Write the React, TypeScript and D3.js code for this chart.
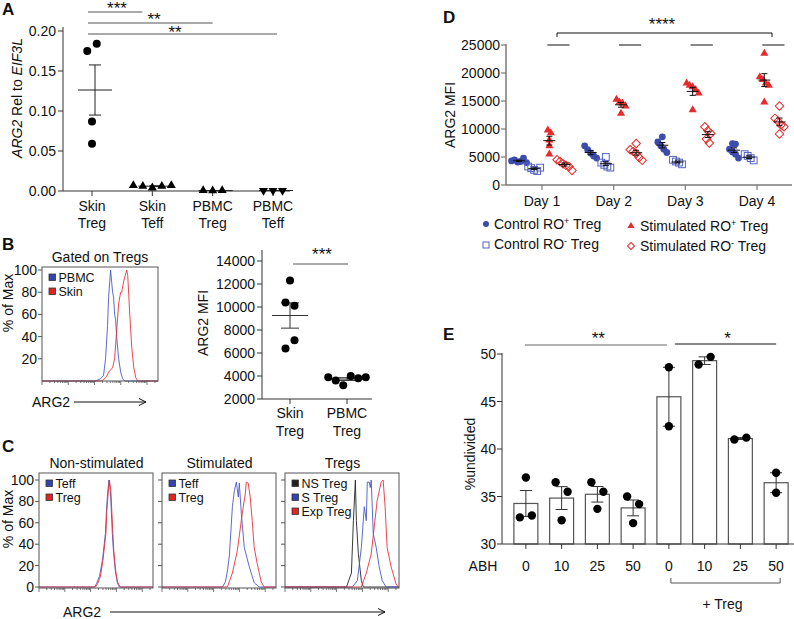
import React from 'react';
import * as d3 from 'd3';

const FONT = '"Liberation Sans", Arial, Helvetica, sans-serif';

// ---------------- Panel A data ----------------
const aCategories = ['Skin Treg', 'Skin Teff', 'PBMC Treg', 'PBMC Teff'];
const aCatLines = [['Skin', 'Treg'], ['Skin', 'Teff'], ['PBMC', 'Treg'], ['PBMC', 'Teff']];
const aSkinTreg = [0.175, 0.184, 0.087, 0.059];
const aSkinTeff = [0.007, 0.006, 0.004, 0.006, 0.007];
const aPbmcTreg = [0.0006, 0.0004, 0.0006];
const aPbmcTeff = [0.0006, 0.0006, 0.0006];
const aTicks = [0, 0.05, 0.1, 0.15, 0.2];
const aSigLabels = ['***', '**', '**'];

// ---------------- Panel B data ----------------
const bHistTicks = [20, 40, 60, 80, 100];
// [channel, % of max]
const bHistPBMC: [number, number][] = [[0, 0], [53, 0], [58, 2], [61, 5], [63, 20], [65, 50], [66, 75], [68, 100], [69, 90], [70, 80], [71, 75], [72, 60], [73, 55], [74, 40], [76, 20], [78, 8], [80, 2], [82, 0], [115, 0]];
const bHistSkin: [number, number][] = [[0, 0], [58, 0], [61, 1], [64, 4], [66, 8], [68, 10], [70, 12], [72, 20], [74, 45], [76, 70], [78, 80], [79, 80], [81, 90], [84, 100], [85, 95], [87, 60], [89, 30], [91, 12], [93, 3], [95, 0], [115, 0]];
const bCategories = ['Skin Treg', 'PBMC Treg'];
const bCatLines = [['Skin', 'Treg'], ['PBMC', 'Treg']];
const bSkinTreg = [12300, 10400, 10100, 6400, 7100];
const bPbmcTreg = [3900, 3600, 3200, 4000, 3800, 3900];
const bTicks = [2000, 4000, 6000, 8000, 10000, 12000, 14000];

// ---------------- Panel C data ----------------
const cTitles = ['Non-stimulated', 'Stimulated', 'Tregs'];
const cHistTicks = [0, 20, 40, 60, 80, 100];
const cNonStimTeff: [number, number][] = [[0, 0], [56, 0], [58, 3], [61, 10], [64, 25], [67, 50], [68, 70], [69, 85], [70.5, 100], [72, 90], [73, 70], [74, 50], [75, 35], [77, 15], [79, 4], [81, 0], [115, 0]];
const cNonStimTreg: [number, number][] = [[0, 0], [57, 0], [59, 3], [62, 10], [64.5, 25], [67.5, 50], [68.5, 72], [69.8, 88], [71, 100], [72.5, 90], [73.5, 70], [74.5, 50], [75.5, 33], [77.5, 14], [79.5, 4], [82, 0], [115, 0]];
const cStimTeff: [number, number][] = [[0, 0], [61, 0], [64, 5], [66, 15], [68, 30], [71, 75], [73, 90], [75, 98], [77, 84], [78, 97], [80, 69], [83, 37], [88, 19], [93, 4], [98, 0], [115, 0]];
const cStimTreg: [number, number][] = [[0, 0], [66, 0], [71, 13], [76, 34], [81, 69], [82, 75], [84, 87], [85, 98], [87, 97], [89, 84], [91, 62], [93, 37], [96, 22], [100, 5], [103, 0], [115, 0]];
const cNSTreg: [number, number][] = [[0, 0], [62, 0], [67, 13], [69, 62], [71, 100], [72, 62], [74, 31], [77, 6], [79, 0], [115, 0]];
const cSTreg: [number, number][] = [[0, 0], [68, 0], [73, 6], [77, 37], [80, 75], [82, 62], [83, 98], [85, 98], [86, 93], [87, 100], [89, 50], [92, 37], [95, 19], [98, 6], [102, 0], [115, 0]];
const cExpTreg: [number, number][] = [[0, 0], [77, 0], [82, 13], [87, 31], [90, 56], [93, 81], [97, 98], [99, 100], [101, 75], [103, 37], [107, 19], [112, 3], [114, 0], [115, 0]];
const cLegends = [['Teff', 'Treg'], ['Teff', 'Treg'], ['NS Treg', 'S Treg', 'Exp Treg']];

// ---------------- Panel D data ----------------
const days = ['Day 1', 'Day 2', 'Day 3', 'Day 4'];
const dGroupNames = ['Control RO+ Treg', 'Control RO- Treg', 'Stimulated RO+ Treg', 'Stimulated RO- Treg'];
const dControlPos = [[4300, 4500, 4100, 4200, 4800, 4000], [7000, 6300, 5700, 5200, 4800], [8600, 7700, 7000, 6400, 5800], [7400, 7300, 6400, 5900, 5500, 4800]];
const dControlNeg = [[3300, 3000, 2700, 2500, 3100], [5000, 4000, 3600, 3300, 3100], [4500, 4200, 4000, 3700], [5500, 5200, 4800, 4400]];
const dStimPos = [[9800, 9300, 8000, 7000, 5500], [15300, 14800, 14600, 14100, 12800], [18200, 17800, 17500, 17000, 16400, 13400], [23500, 19300, 18800, 18200, 17800, 14800]];
const dStimNeg = [[4500, 4200, 3800, 3500, 3300, 2600], [7400, 6300, 6000, 5600, 4900, 4400], [10400, 9700, 9200, 8200, 7500], [14100, 11900, 11400, 10700, 10400, 9100]];
const dTicks = [0, 5000, 10000, 15000, 20000, 25000];

// ---------------- Panel E data ----------------
const eLabels = ['0', '10', '25', '50', '0', '10', '25', '50'];
const eValues = [[37.0, 32.8, 33.0], [36.5, 35.5, 32.5], [36.5, 35.5, 33.7], [35.0, 34.2, 32.2], [48.6, 42.4], [48.9, 49.7], [41.0, 41.2], [37.5, 35.4]];
const eTicks = [30, 35, 40, 45, 50];

// ---------------- helpers ----------------
const sem = (v: number[]) => (v.length > 1 ? (d3.deviation(v) as number) / Math.sqrt(v.length) : 0);

function swarm(values: number[], toPx: (v: number) => number, thresh: number, step: number): number[] {
  const idx = values.map((_, i) => i).sort((a, b) => toPx(values[a]) - toPx(values[b]));
  const off = new Array(values.length).fill(0);
  let cluster: number[] = [];
  const flush = () => {
    const m = [...cluster].sort((a, b) => a - b);
    m.forEach((k, j) => { off[k] = (j - (m.length - 1) / 2) * step; });
    cluster = [];
  };
  idx.forEach((i) => {
    if (cluster.length && toPx(values[i]) - toPx(values[cluster[cluster.length - 1]]) >= thresh) flush();
    cluster.push(i);
  });
  if (cluster.length) flush();
  return off;
}

const sym = (type: d3.SymbolType, size: number) => d3.symbol().type(type).size(size)() as string;

function Marker({ shape, x, y, color, size }: { shape: string; x: number; y: number; color: string; size: number }) {
  if (shape === 'circle') return <circle cx={x} cy={y} r={size} fill={color} />;
  if (shape === 'tri') return <path d={sym(d3.symbolTriangle, size * size * 2.2)} transform={`translate(${x},${y})`} fill={color} />;
  if (shape === 'triDown') return <path d={sym(d3.symbolTriangle, size * size * 2.2)} transform={`translate(${x},${y}) rotate(180)`} fill={color} />;
  if (shape === 'square') return <rect x={x - size} y={y - size} width={size * 2} height={size * 2} fill="none" stroke={color} strokeWidth={1} />;
  if (shape === 'diamond') return <rect x={x - size * 0.75} y={y - size * 0.75} width={size * 1.5} height={size * 1.5} fill="none" stroke={color} strokeWidth={1} transform={`rotate(45,${x},${y})`} />;
  return null;
}

function MeanSem({ values, cx, y, meanW, capW, color, sw = 1 }: { values: number[]; cx: number; y: d3.ScaleLinear<number, number>; meanW: number; capW: number; color: string; sw?: number }) {
  const m = d3.mean(values) as number;
  const s = sem(values);
  return (
    <g stroke={color} strokeWidth={sw}>
      <line x1={cx - meanW / 2} x2={cx + meanW / 2} y1={y(m)} y2={y(m)} />
      {s > 0 && (
        <>
          <line x1={cx} x2={cx} y1={y(m + s)} y2={y(m - s)} />
          <line x1={cx - capW / 2} x2={cx + capW / 2} y1={y(m + s)} y2={y(m + s)} />
          <line x1={cx - capW / 2} x2={cx + capW / 2} y1={y(m - s)} y2={y(m - s)} />
        </>
      )}
    </g>
  );
}

function Arrow({ x1, x2, y }: { x1: number; x2: number; y: number }) {
  return (
    <g stroke="#111" strokeWidth={1}>
      <line x1={x1} x2={x2} y1={y} y2={y} />
      <path d={`M${x2 - 7},${y - 3.5} L${x2},${y} L${x2 - 7},${y + 3.5}`} fill="none" />
    </g>
  );
}

function HistBox({ left, width, top, bottom, yScale, curves, ticks, showLabels, legend }: {
  left: number; width: number; top: number; bottom: number; yScale: d3.ScaleLinear<number, number>;
  curves: { data: [number, number][]; color: string }[]; ticks: number[]; showLabels: boolean;
  legend: { label: string; color: string }[];
}) {
  const hx = d3.scaleLinear().domain([0, 115]).range([left, left + width]);
  const line = d3.line<[number, number]>().x((d) => hx(d[0])).y((d) => yScale(d[1]));
  const logX = d3.scaleLog().domain([10, 262144]).range([left, left + width]);
  const logTicks = logX.ticks();
  return (
    <g>
      {curves.map((c, i) => (
        <path key={i} d={line(c.data) as string} fill="none" stroke={c.color} strokeWidth={0.9} />
      ))}
      <rect x={left} y={top} width={width} height={bottom - top} fill="none" stroke="#555" strokeWidth={1} />
      {ticks.map((t) => (
        <g key={t}>
          <line x1={left - 4} x2={left} y1={yScale(t)} y2={yScale(t)} stroke="#555" />
          {showLabels && (
            <text x={left - 5} y={yScale(t) + 5} textAnchor="end" fontSize={14}>{t}</text>
          )}
        </g>
      ))}
      {logTicks.map((t, i) => {
        const major = Math.abs(Math.log10(t) - Math.round(Math.log10(t))) < 1e-6;
        return <line key={i} x1={logX(t)} x2={logX(t)} y1={bottom} y2={bottom + (major ? 4 : 2)} stroke="#555" strokeWidth={0.8} />;
      })}
      {legend.map((l, i) => (
        <g key={l.label}>
          <rect x={left + 7} y={top + 7 + i * 14} width={6.5} height={6.5} fill={l.color} stroke="#333" strokeWidth={0.8} />
          <text x={left + 16.5} y={top + 15 + i * 14} fontSize={12.5}>{l.label}</text>
        </g>
      ))}
    </g>
  );
}

export default function App() {
  const axisCol = '#333';
  // ---------- A ----------
  const yA = d3.scaleLinear().domain([0, 0.2]).range([191, 31]);
  const xA = d3.scalePoint<string>().domain(aCategories).range([92, 273]);
  const aGroups = [aSkinTreg, aSkinTeff, aPbmcTreg, aPbmcTeff];
  const aShapes = ['circle', 'tri', 'tri', 'triDown'];
  const aSigTo = [xA('Skin Teff')! - 10, xA('PBMC Treg')!, xA('PBMC Teff')! + 4];
  const aSigY = [12, 23, 34];
  const aStarX = [117, 154, 175];
  const aStarY = [14, 25, 38];

  // ---------- B ----------
  const hyB = d3.scaleLinear().domain([0, 100]).range([381, 270]);
  const yB = d3.scaleLinear().domain([2000, 14000]).range([399, 261]);
  const xB = d3.scalePoint<string>().domain(bCategories).range([290, 347]);
  const bGroups = [bSkinTreg, bPbmcTreg];

  // ---------- C ----------
  const hyC = d3.scaleLinear().domain([0, 100]).range([587, 480]);
  const cLefts = [39, 162, 285];
  const blueH = '#4a58c8';
  const redH = '#e8323a';
  const cCurves = [
    [{ data: cNonStimTeff, color: blueH }, { data: cNonStimTreg, color: redH }],
    [{ data: cStimTeff, color: blueH }, { data: cStimTreg, color: redH }],
    [{ data: cNSTreg, color: '#222' }, { data: cSTreg, color: blueH }, { data: cExpTreg, color: redH }],
  ];
  const legBlue = '#3344b0';
  const legRed = '#e02525';
  const cLegColors = [[legBlue, legRed], [legBlue, legRed], ['#222', legBlue, legRed]];

  // ---------- D ----------
  const yD = d3.scaleLinear().domain([0, 25000]).range([185, 45]);
  const xD = d3.scalePoint<string>().domain(days).range([542, 757]);
  const xSub = d3.scalePoint<string>().domain(dGroupNames).range([-23, 22.5]);
  const dBlue = '#3b4cad';
  const dBlueLight = '#5563c1';
  const dRed = '#e52b2b';
  const dSeries = [
    { name: dGroupNames[0], data: dControlPos, shape: 'circle', color: dBlue, size: 3.4 },
    { name: dGroupNames[1], data: dControlNeg, shape: 'square', color: dBlueLight, size: 3.4 },
    { name: dGroupNames[2], data: dStimPos, shape: 'tri', color: dRed, size: 3.6 },
    { name: dGroupNames[3], data: dStimNeg, shape: 'diamond', color: dRed, size: 4.0 },
  ];

  // ---------- E ----------
  const yE = d3.scaleLinear().domain([30, 50]).range([544, 354]);
  const xE = d3.scaleBand<number>().domain(eLabels.map((_, i) => i)).range([508, 794]).paddingInner(0.33).paddingOuter(0.165);
  const eCx = (i: number) => (xE(i) as number) + xE.bandwidth() / 2;

  const star = { fontSize: 17 };

  return (
    <svg width={794} height={619} style={{ position: 'absolute', left: 0, top: 0, background: '#fff' }} fontFamily={FONT} fill="#111">
      <rect x={0} y={0} width={794} height={619} fill="#fff" />
      {/* ================= A ================= */}
      <text x={2} y={15} fontSize={17} fontWeight="bold">A</text>
      <text transform="translate(22,98) rotate(-90)" textAnchor="middle" fontSize={14}>
        <tspan fontStyle="italic">ARG2</tspan> Rel to <tspan fontStyle="italic">EIF3L</tspan>
      </text>
      <line x1={63} x2={63} y1={191} y2={yA(0.205)} stroke={axisCol} />
      <line x1={63} x2={290} y1={191} y2={191} stroke={axisCol} />
      {aTicks.map((t) => (
        <g key={t}>
          <line x1={58} x2={63} y1={yA(t)} y2={yA(t)} stroke={axisCol} />
          <text x={56} y={yA(t) + 5} textAnchor="end" fontSize={14}>{t.toFixed(2)}</text>
        </g>
      ))}
      {aCategories.map((c, i) => (
        <g key={c}>
          <line x1={xA(c)} x2={xA(c)} y1={191} y2={196} stroke={axisCol} />
          <text x={xA(c)} y={211} textAnchor="middle" fontSize={14}>{aCatLines[i][0]}</text>
          <text x={xA(c)} y={228} textAnchor="middle" fontSize={14}>{aCatLines[i][1]}</text>
        </g>
      ))}
      {aGroups.map((vals, gi) => {
        const cx = xA(aCategories[gi])!;
        const off = swarm(vals, yA, 9, 9.5);
        return (
          <g key={gi}>
            <MeanSem values={vals} cx={cx + 3} y={yA} meanW={34} capW={12} color="#222" />
            {vals.map((v, i) => (
              <Marker key={i} shape={aShapes[gi]} x={cx + off[i]} y={yA(v)} color="#000" size={4} />
            ))}
          </g>
        );
      })}
      {aSigY.map((y, i) => (
        <g key={i}>
          <line x1={88} x2={aSigTo[i]} y1={y} y2={y} stroke="#555" />
          <text x={aStarX[i]} y={aStarY[i]} textAnchor="middle" {...star}>{aSigLabels[i]}</text>
        </g>
      ))}

      {/* ================= B ================= */}
      <text x={2} y={250} fontSize={17} fontWeight="bold">B</text>
      <text x={100} y={262} textAnchor="middle" fontSize={14}>Gated on Tregs</text>
      <text transform="translate(13,303) rotate(-90)" textAnchor="middle" fontSize={14}>% of Max</text>
      <HistBox left={42} width={116} top={267} bottom={381} yScale={hyB}
        curves={[{ data: bHistPBMC, color: blueH }, { data: bHistSkin, color: redH }]}
        ticks={bHistTicks} showLabels={true}
        legend={[{ label: 'PBMC', color: legBlue }, { label: 'Skin', color: legRed }]} />
      <text x={32} y={407} fontSize={14}>ARG2</text>
      <Arrow x1={74} x2={146} y={402} />

      <text transform="translate(208,323) rotate(-90)" textAnchor="middle" fontSize={14}>ARG2 MFI</text>
      <line x1={262} x2={262} y1={399} y2={250} stroke={axisCol} />
      <line x1={262} x2={372} y1={399} y2={399} stroke={axisCol} />
      {bTicks.map((t) => (
        <g key={t}>
          <line x1={257} x2={262} y1={yB(t)} y2={yB(t)} stroke={axisCol} />
          <text x={255} y={yB(t) + 5} textAnchor="end" fontSize={14}>{t}</text>
        </g>
      ))}
      {bCategories.map((c, i) => (
        <g key={c}>
          <line x1={xB(c)} x2={xB(c)} y1={399} y2={404} stroke={axisCol} />
          <text x={xB(c)} y={418} textAnchor="middle" fontSize={14}>{bCatLines[i][0]}</text>
          <text x={xB(c)} y={436} textAnchor="middle" fontSize={14}>{bCatLines[i][1]}</text>
        </g>
      ))}
      {bGroups.map((vals, gi) => {
        const cx = xB(bCategories[gi])!;
        const off = swarm(vals, yB, 9, gi === 0 ? 9 : 7.5);
        return (
          <g key={gi}>
            <MeanSem values={vals} cx={cx} y={yB} meanW={36} capW={18} color="#333" />
            {vals.map((v, i) => (
              <circle key={i} cx={cx + off[i]} cy={yB(v)} r={4} fill="#000" />
            ))}
          </g>
        );
      })}
      <line x1={293} x2={348} y1={264} y2={264} stroke="#555" />
      <text x={322} y={260} textAnchor="middle" {...star}>***</text>

      {/* ================= C ================= */}
      <text x={2} y={452} fontSize={17} fontWeight="bold">C</text>
      <text transform="translate(13,519) rotate(-90)" textAnchor="middle" fontSize={14}>% of Max</text>
      {cLefts.map((left, bi) => (
        <g key={bi}>
          <text x={left + 57.5} y={468} textAnchor="middle" fontSize={14}>{cTitles[bi]}</text>
          <HistBox left={left} width={114} top={473} bottom={588} yScale={hyC}
            curves={cCurves[bi]} ticks={cHistTicks} showLabels={bi === 0}
            legend={cLegends[bi].map((l, k) => ({ label: l, color: cLegColors[bi][k] }))} />
        </g>
      ))}
      <text x={63} y={617} fontSize={14}>ARG2</text>
      <Arrow x1={110} x2={385} y={612} />

      {/* ================= D ================= */}
      <text x={443} y={23} fontSize={17} fontWeight="bold">D</text>
      <text transform="translate(455,115) rotate(-90)" textAnchor="middle" fontSize={14}>ARG2 MFI</text>
      <line x1={506} x2={506} y1={185} y2={44} stroke="#7a7a7a" strokeWidth={1.5} />
      <line x1={506} x2={792} y1={185} y2={185} stroke="#7a7a7a" strokeWidth={1.5} />
      {dTicks.map((t) => (
        <g key={t}>
          <line x1={501} x2={506} y1={yD(t)} y2={yD(t)} stroke="#7a7a7a" strokeWidth={1.2} />
          <text x={500} y={yD(t) + 5} textAnchor="end" fontSize={14}>{t}</text>
        </g>
      ))}
      {days.map((d) => (
        <g key={d}>
          <line x1={xD(d)} x2={xD(d)} y1={185} y2={190} stroke="#7a7a7a" strokeWidth={1.2} />
          <text x={xD(d)} y={206} textAnchor="middle" fontSize={14}>{d}</text>
        </g>
      ))}
      {dSeries.map((s) => (
        <g key={s.name}>
          {days.map((d, di) => {
            const cx = xD(d)! + xSub(s.name)!;
            const vals = s.data[di];
            const off = swarm(vals, yD, 4, 3);
            return (
              <g key={d}>
                {vals.map((v, i) => (
                  <Marker key={i} shape={s.shape} x={cx + off[i]} y={yD(v)} color={s.color} size={s.size} />
                ))}
                <MeanSem values={vals} cx={cx} y={yD} meanW={12} capW={6} color="#111" />
              </g>
            );
          })}
        </g>
      ))}
      {days.map((d) => (
        <line key={d} x1={xD(d)! + xSub(dGroupNames[2])! - 2} x2={xD(d)! + xSub(dGroupNames[3])! + 5} y1={45} y2={45} stroke="#111" />
      ))}
      <path d={`M557,37 V33 H772 V37`} fill="none" stroke="#111" />
      <text x={662} y={30} textAnchor="middle" {...star}>****</text>
      {/* legend */}
      <circle cx={486} cy={224} r={3} fill={dBlue} />
      <text x={494} y={229} fontSize={14}>Control RO<tspan dy={-5} fontSize={9}>+</tspan><tspan dy={5}> Treg</tspan></text>
      <rect x={483} y={242} width={6} height={6} fill="none" stroke={dBlueLight} />
      <text x={494} y={249} fontSize={14}>Control RO<tspan dy={-5} fontSize={9}>-</tspan><tspan dy={5}> Treg</tspan></text>
      <path d={sym(d3.symbolTriangle, 22)} transform="translate(631,226)" fill={dRed} />
      <text x={640} y={231} fontSize={14}>Stimulated RO<tspan dy={-5} fontSize={9}>+</tspan><tspan dy={5}> Treg</tspan></text>
      <rect x={628.5} y={243.5} width={5} height={5} fill="none" stroke={dRed} transform="rotate(45,631,246)" />
      <text x={640} y={251} fontSize={14}>Stimulated RO<tspan dy={-5} fontSize={9}>-</tspan><tspan dy={5}> Treg</tspan></text>

      {/* ================= E ================= */}
      <text x={443} y={340} fontSize={17} fontWeight="bold">E</text>
      <text transform="translate(475,454) rotate(-90)" textAnchor="middle" fontSize={14}>%undivided</text>
      {eValues.map((vals, i) => {
        const m = d3.mean(vals) as number;
        const x0 = xE(i) as number;
        return (
          <rect key={i} x={x0} y={yE(m)} width={xE.bandwidth()} height={yE(30) - yE(m)} fill="#fff" stroke="#555" strokeWidth={1.2} />
        );
      })}
      {eValues.map((vals, i) => {
        const cx = eCx(i);
        const off = swarm(vals, yE, 10, 12);
        return (
          <g key={i}>
            <MeanSem values={vals} cx={cx} y={yE} meanW={0} capW={12} color="#333" />
            {vals.map((v, k) => (
              <circle key={k} cx={cx + off[k]} cy={yE(v)} r={4.2} fill="#000" />
            ))}
          </g>
        );
      })}
      <line x1={502} x2={502} y1={544} y2={353} stroke={axisCol} />
      <line x1={502} x2={794} y1={544} y2={544} stroke={axisCol} />
      {eTicks.map((t) => (
        <g key={t}>
          <line x1={497} x2={502} y1={yE(t)} y2={yE(t)} stroke={axisCol} />
          <text x={496} y={yE(t) + 5} textAnchor="end" fontSize={14}>{t}</text>
        </g>
      ))}
      {eLabels.map((l, i) => (
        <g key={i}>
          <line x1={eCx(i)} x2={eCx(i)} y1={544} y2={549} stroke={axisCol} />
          <text x={eCx(i)} y={571} textAnchor="middle" fontSize={14}>{l}</text>
        </g>
      ))}
      <text x={483} y={571} textAnchor="middle" fontSize={14}>ABH</text>
      <path d={`M${eCx(4) + 2},578 V583 H${eCx(7) + 4} V578`} fill="none" stroke="#555" />
      <text x={(eCx(4) + eCx(7)) / 2} y={609} textAnchor="middle" fontSize={14}>+ Treg</text>
      <line x1={eCx(0) - 1} x2={eCx(4) - 2} y1={345} y2={345} stroke="#666" />
      <text x={(eCx(0) + eCx(4)) / 2 + 1} y={344} textAnchor="middle" {...star}>**</text>
      <line x1={eCx(4) + 6} x2={eCx(7)} y1={344} y2={344} stroke="#111" />
      <text x={(eCx(4) + eCx(7)) / 2 + 5} y={344} textAnchor="middle" {...star}>*</text>
    </svg>
  );
}
